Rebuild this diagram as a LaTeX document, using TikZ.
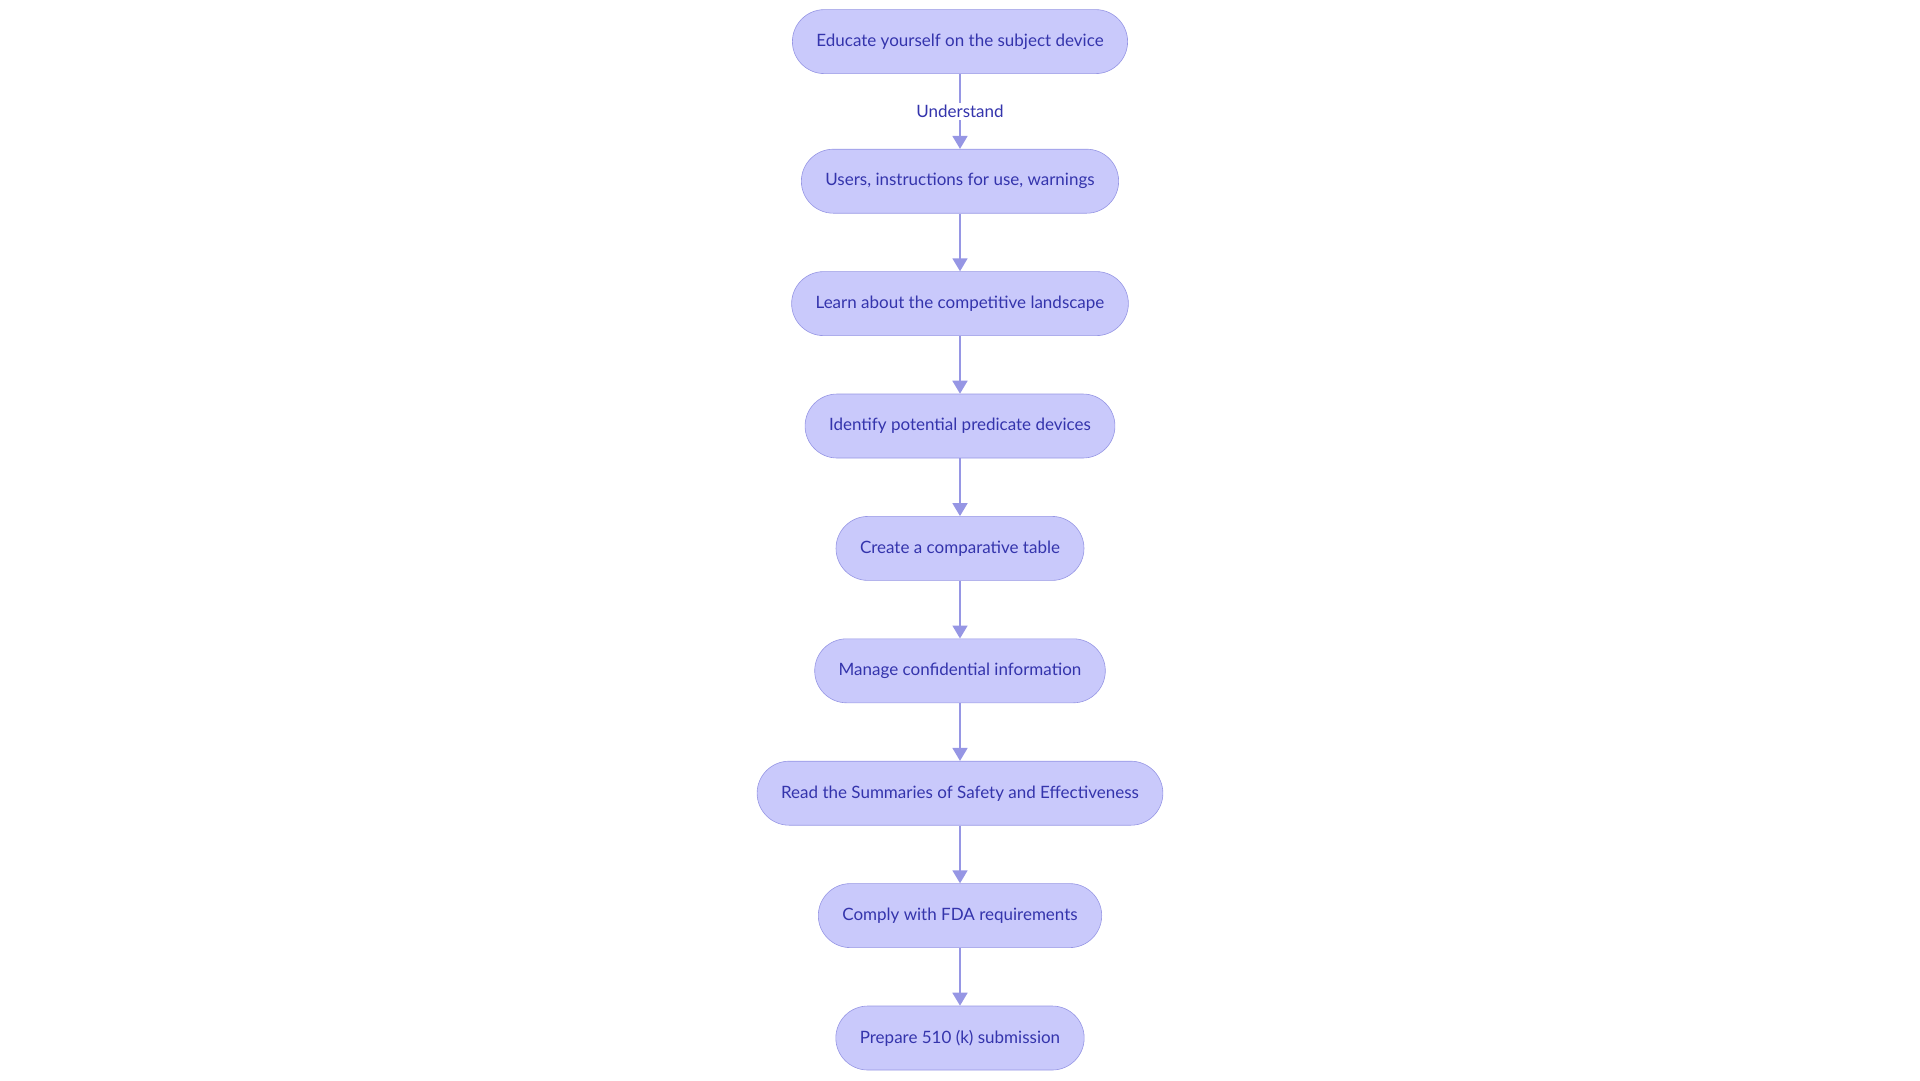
\documentclass[tikz,border=0pt]{standalone}
\usepackage{fontspec}
\setmainfont{Lato}
\usetikzlibrary{positioning,arrows.meta}
\definecolor{boxfill}{RGB}{201,201,251}
\definecolor{boxline}{RGB}{150,150,228}
\definecolor{boxtext}{RGB}{52,52,172}
\tikzset{
  stepbox/.style={draw=boxline,fill=boxfill,text=boxtext,rounded corners=32pt,
    minimum height=64pt,inner xsep=24pt,font=\fontsize{17}{20}\selectfont},
  flow/.style={draw=boxline,line width=1.8pt,-{Triangle[width=15pt,length=13pt]}}
}
\begin{document}
\begin{tikzpicture}[x=1pt,y=1pt,node distance=57.8pt,semithick]
\useasboundingbox (0,0) rectangle (1920,-1080);
\node[stepbox] (n1) at (960,-41.6) {Educate yourself on the subject device};
\node[stepbox,below=75pt of n1] (n2) {Users, instructions for use, warnings};
\foreach \t [count=\i from 3,remember=\i as \j (initially 2)] in {{Learn about the competitive landscape},{Identify potential predicate devices},{Create a comparative table},{Manage confidential information},{Read the Summaries of Safety and Effectiveness},{Comply with FDA requirements},{Prepare 510 (k) submission}}
\node[stepbox,below=of n\j] (n\i) {\t};
\draw[flow] (n1) -- node[fill=white,text=boxtext,inner sep=2pt,font=\fontsize{17}{20}\selectfont] {Understand} (n2);
\foreach \i [count=\k from 3] in {2,...,8}
\draw[flow] (n\i) -- (n\k);
\end{tikzpicture}
\end{document}
